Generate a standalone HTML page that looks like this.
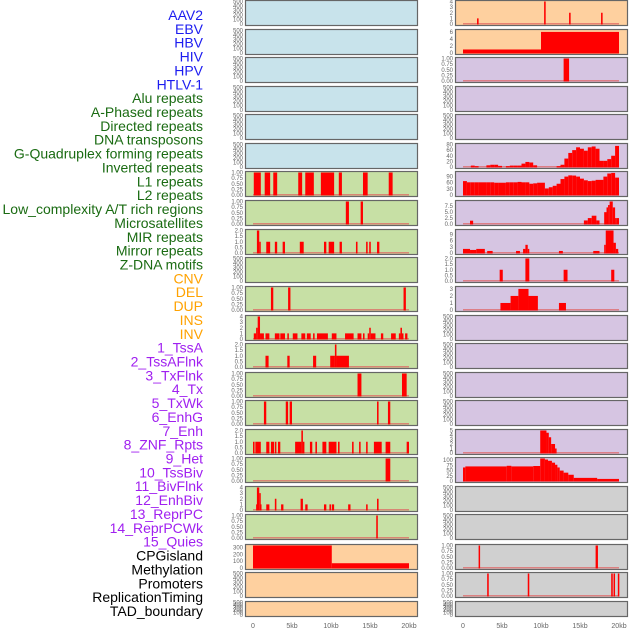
<!DOCTYPE html>
<html><head><meta charset="utf-8">
<style>
html,body{margin:0;padding:0;background:#fff;width:630px;height:630px;overflow:hidden}
svg{display:block;font-family:"Liberation Sans",sans-serif}
</style></head>
<body>
<svg id="chart" width="630" height="630" viewBox="0 0 630 630" xmlns="http://www.w3.org/2000/svg">
<g id="labels"></g>
<g id="panels"></g>
<g id="xaxis"></g>
</svg>
<script>
// ---- data ----
const trackLabels = ["AAV2","EBV","HBV","HIV","HPV","HTLV-1","Alu repeats","A-Phased repeats","Directed repeats","DNA transposons","G-Quadruplex forming repeats","Inverted repeats","L1 repeats","L2 repeats","Low_complexity A/T rich regions","Microsatellites","MIR repeats","Mirror repeats","Z-DNA motifs","CNV","DEL","DUP","INS","INV","1_TssA","2_TssAFlnk","3_TxFlnk","4_Tx","5_TxWk","6_EnhG","7_Enh","8_ZNF_Rpts","9_Het","10_TssBiv","11_BivFlnk","12_EnhBiv","13_ReprPC","14_ReprPCWk","15_Quies","CPGisland","Methylation","Promoters","ReplicationTiming","TAD_boundary"];
const labelColors = ["#1c1cf0","#1c1cf0","#1c1cf0","#1c1cf0","#1c1cf0","#1c1cf0","#1a6b12","#1a6b12","#1a6b12","#1a6b12","#1a6b12","#1a6b12","#1a6b12","#1a6b12","#1a6b12","#1a6b12","#1a6b12","#1a6b12","#1a6b12","#ffa200","#ffa200","#ffa200","#ffa200","#ffa200","#a020f0","#a020f0","#a020f0","#a020f0","#a020f0","#a020f0","#a020f0","#a020f0","#a020f0","#a020f0","#a020f0","#a020f0","#a020f0","#a020f0","#a020f0","#000","#000","#000","#000","#000"];
const xTickValues = [0,5,10,15,20];
const xTickLabels = ["0","5kb","10kb","15kb","20kb"];

const tick500 = [0,100,200,300,400,500];
const tick1 = [0,0.25,0.5,0.75,1];
const tick2 = [0,0.5,1,1.5,2];

// left column bars [startKb, endKb, value]
const L_inverted = [[0.1,1.0,1],[1.5,2.2,1],[2.6,3.1,1],[5.8,6.3,1],[6.7,7.8,1],[8.7,10.4,1],[11.0,11.4,1],[14.1,14.7,1],[17.4,17.9,1]];
const L_l1 = [[11.9,12.3,1],[13.8,14.1,1]];
const L_lowc = [[0.5,0.8,2],[0.8,0.9,1],[1.7,2.2,1],[2.8,3.1,1],[3.8,4.1,1],[6.0,6.5,1],[9.1,9.4,1],[9.7,10.4,1],[11.1,11.4,1],[13.2,13.4,1],[14.5,14.7,1],[14.9,15.1,1],[15.9,16.2,1]];
const L_mirror = [[2.3,2.6,1],[4.5,4.8,1],[19.3,19.6,1]];
const L_ins = [[0.1,0.4,1],[0.4,0.6,2],[0.6,0.9,4],[0.9,1.4,1],[1.6,2.1,1],[2.8,3.4,1],[3.5,4.1,1],[4.4,4.6,1],[5.1,5.7,1],[6.2,6.7,1],[6.9,7.4,1],[7.7,7.9,1],[8.2,9.6,1],[10.1,10.7,1],[11.8,12.9,1],[13.4,13.9,1],[14.1,14.3,1],[14.7,14.9,1],[14.9,15.1,2],[15.1,15.7,1],[16.4,16.7,1],[17.7,18.3,1],[18.7,18.9,1],[18.9,19.1,2],[19.1,19.2,1],[19.5,19.8,1]];
const L_tssa = [[1.6,2.0,1],[4.4,4.7,1],[7.7,8.1,1],[9.9,10.5,1],[10.5,10.7,2],[10.7,12.3,1]];
const L_txflnk = [[13.4,13.9,1],[19.1,19.7,1]];
const L_txwk = [[1.4,1.7,1],[4.2,4.5,1],[4.7,5.0,1],[15.9,16.1,1],[17.3,17.6,1]];
const L_enh = [[0.0,0.2,1],[0.3,1.0,1],[1.7,2.1,1],[2.3,2.7,1],[2.8,3.0,1],[3.2,3.5,1],[5.4,6.2,1],[6.2,6.4,2],[6.4,6.5,1],[7.3,7.6,1],[8.0,8.2,1],[8.9,9.4,1],[9.7,10.7,1],[10.9,11.1,1],[12.7,12.9,1],[13.6,13.8,1],[14.5,14.7,1],[15.5,16.5,1],[17.0,17.6,1],[19.7,20.0,1]];
const L_het = [[17.0,17.6,1]];
const L_bivflnk = [[0.4,0.5,1],[0.5,0.8,4],[0.8,0.9,3],[0.9,1.0,1],[1.7,2.1,1],[2.8,3.0,2],[3.6,3.9,1],[6.1,6.4,2],[6.7,7.0,1],[9.1,9.4,1],[9.8,10.0,1],[10.1,10.4,1],[12.2,12.5,1],[14.5,14.7,1],[15.9,16.1,2]];
const L_enhbiv = [[15.8,16.0,1]];
const L_cpg = [[0.0,10.1,330],[10.1,20.0,70]];

// right column
const R_aav2 = [[1.8,2.0,1],[10.4,10.6,4],[13.6,13.8,2],[17.7,17.9,2]];
const R_ebv = [[0.0,10.0,1],[10.0,20.0,6]];
const R_hbv = [[12.9,13.6,1]];
const R_gquad = [0,0,5,3,0,0,6,8,8,4,0,3,5,5,5,12,18,16,6,0,0,0,0,0,3,8,30,50,60,70,65,58,70,73,65,22,22,28,40,75];
const R_inverted = [68,62,62,62,62,62,62,62,60,60,60,62,62,62,64,62,62,55,57,60,60,32,38,45,55,78,90,96,95,90,80,72,68,70,74,74,90,105,108,85];
const R_l2 = [[0.9,1.3,1.4],[15.5,16.0,1.5],[16.0,16.5,2.5],[16.5,17.1,3.5],[17.1,17.5,1.5],[18.1,18.4,5],[18.4,18.6,7],[18.6,18.8,8],[18.8,19.2,9.5],[19.2,19.5,7],[19.5,19.7,2.5],[19.7,20.0,2.5]];
const R_lowc = [[0,0.9,2],[0.9,1.7,1.5],[1.7,2.8,2],[3.1,3.8,1],[6.8,7.3,1],[7.7,8.0,2],[8.0,8.3,4],[8.3,8.5,2],[12.3,12.8,1],[16.7,17.5,1],[18.1,18.3,4],[18.3,19.3,11],[19.3,19.6,5],[19.6,19.9,2]];
const R_micro = [[4.7,5.1,1],[8.0,8.5,2],[12.9,13.4,1],[19.0,19.4,1]];
const R_mir = [[4.8,6.1,1],[6.1,7.1,2],[7.1,8.4,3],[8.4,9.6,2],[12.3,13.2,1]];
const R_dup = [[9.9,10.7,5],[10.7,11.0,4.5],[11.0,11.3,3.5],[11.3,11.8,2],[11.8,12.0,1]];
const R_ins = [[0,0.3,65],[0.3,5.6,70],[5.6,6.2,73],[6.2,9.0,70],[9.0,9.9,72],[9.9,10.5,108],[10.5,10.9,103],[10.9,11.4,97],[11.4,11.8,88],[11.8,12.1,78],[12.1,12.4,65],[12.4,12.9,50],[12.9,13.5,40],[13.5,14.2,30],[14.2,17.2,15],[17.2,20.0,10]];
const R_row20 = [[2.0,2.15,1],[17.0,17.3,1]];
const R_row21 = [[3.1,3.3,1],[8.3,8.5,1],[19.0,19.2,1],[19.3,19.4,1],[19.85,20.0,1]];

// ---- layout ----
const rowTops = [0,29,57,86,114,143,171,200,229,257,286,315,343,372,400,429,457,486,514,544,572,601];
const BG = {b:"#c8e3eb",g:"#c7e0a5",o:"#fed09f",p:"#d6c5e2",y:"#d0d0d0"};
function binsToBars(vals){return vals.map((v,i)=>[i*0.5,(i+1)*0.5,v]);}
const panels = [
 // [col,row,bg,ticks,tickDecimals,ymax,bars,name]
 [0,0,"b",tick500,0,500,null,"aav2-left"],[1,0,"o",[0,1,2,3,4],0,4,R_aav2,"aav2-right"],
 [0,1,"b",tick500,0,500,null,"ebv-left"],[1,1,"o",[0,2,4,6],0,6.4,R_ebv,"ebv-right"],
 [0,2,"b",tick500,0,500,null,"hbv-left"],[1,2,"p",tick1,2,1,R_hbv,"hbv-right"],
 [0,3,"b",tick500,0,500,null,"hiv-left"],[1,3,"p",tick500,0,500,null,"hiv-right"],
 [0,4,"b",tick500,0,500,null,"hpv-left"],[1,4,"p",tick500,0,500,null,"hpv-right"],
 [0,5,"b",tick500,0,500,null,"htlv-left"],[1,5,"p",[0,20,40,60,80],0,80,binsToBars(R_gquad),"gquad-right"],
 [0,6,"g",tick1,2,1,L_inverted,"inverted-left"],[1,6,"p",[0,30,60,90],0,110,binsToBars(R_inverted),"inverted-right"],
 [0,7,"g",tick1,2,1,L_l1,"l1-left"],[1,7,"p",[0,2.5,5,7.5],1,9.5,R_l2,"l2-right"],
 [0,8,"g",tick2,1,2,L_lowc,"lowc-left"],[1,8,"p",[0,3,6,9],0,11,R_lowc,"lowc-right"],
 [0,9,"g",tick500,0,500,null,"micro-left"],[1,9,"p",tick2,1,2,R_micro,"micro-right"],
 [0,10,"g",tick1,2,1,L_mirror,"mirror-left"],[1,10,"p",[0,1,2,3],0,3.2,R_mir,"mir-right"],
 [0,11,"g",[0,1,2,3,4],0,4,L_ins,"ins-left"],[1,11,"p",tick500,0,500,null,"row12-right"],
 [0,12,"g",tick2,1,2,L_tssa,"tssa-left"],[1,12,"p",tick500,0,500,null,"row13-right"],
 [0,13,"g",tick1,2,1,L_txflnk,"txflnk-left"],[1,13,"p",tick500,0,500,null,"row14-right"],
 [0,14,"g",tick1,2,1,L_txwk,"txwk-left"],[1,14,"p",tick500,0,500,null,"row15-right"],
 [0,15,"g",tick2,1,2,L_enh,"enh-left"],[1,15,"p",[0,1,2,3,4,5],0,5,R_dup,"dup-right"],
 [0,16,"g",tick1,2,1,L_het,"het-left"],[1,16,"p",[0,25,50,75,100],0,108,R_ins,"ins-right"],
 [0,17,"g",[0,1,2,3,4],0,4,L_bivflnk,"bivflnk-left"],[1,17,"y",tick500,0,500,null,"row18-right"],
 [0,18,"g",tick1,2,1,L_enhbiv,"enhbiv-left"],[1,18,"y",tick500,0,500,null,"row19-right"],
 [0,19,"o",[0,100,200,300],0,330,L_cpg,"cpg-left"],[1,19,"y",tick1,2,1,R_row20,"row20-right"],
 [0,20,"o",tick500,0,500,null,"promoters-left"],[1,20,"y",tick1,2,1,R_row21,"row21-right"],
 [0,21,"o",tick500,0,500,null,"tad-left"],[1,21,"y",tick500,0,500,null,"tad-right"]
];

const NS="http://www.w3.org/2000/svg";
function mk(tag,attrs,parent){const e=document.createElementNS(NS,tag);for(const k in attrs)e.setAttribute(k,attrs[k]);parent.appendChild(e);return e;}

// labels
const lg=document.getElementById("labels");
trackLabels.forEach((t,i)=>{
  const e=mk("text",{x:203,y:20+i*13.86,"text-anchor":"end","font-size":"14",fill:labelColors[i]},lg);
  
  
  e.textContent=t;
});

const colX=[245,455], colZero=[253,463], pxPerKb=7.8, PW=172;
function xScale(col,kb){return colZero[col]+kb*pxPerKb;}
const pg=document.getElementById("panels");
panels.forEach(p=>{
  const [col,row,bg,ticks,dec,ymax,bars,name]=p;
  const top=rowTops[row]+0.5, h=(row===21?15:25);
  const x0=colX[col];
  const g=mk("g",{},pg);
  
  
  mk("rect",{x:x0+0.5,y:top,width:PW,height:h,fill:BG[bg],stroke:"#666","stroke-width":1.2},g);
  const yb=top+h-1.5, yt=top+1;
  const yScale=v=>yb-(v/ymax)*(yb-yt);
  ticks.forEach(tv=>{
    const t=mk("text",{x:x0-2,y:yScale(tv)+2,"text-anchor":"end","font-size":"6",fill:"#666"},g);
    
    
    t.textContent=tv.toFixed(dec);
  });
  if(bars){
    const bl=mk("rect",{x:xScale(col,0),y:yb-1,width:20*pxPerKb,height:1.5,fill:"#e06060",opacity:0.7},g);
    
    
    bars.forEach(b=>{
      if(b[2]<=0)return;
      const xa=xScale(col,b[0]), xb=xScale(col,b[1]), y=yScale(b[2]);
      const r=mk("rect",{x:xa,y:y,width:Math.max(1.5,xb-xa),height:yb-y+0.5,fill:"#ff0000"},g);
      
      
    });
  }
});

const xg=document.getElementById("xaxis");
[0,1].forEach(col=>{
  xTickValues.forEach((v,i)=>{
    const t=mk("text",{x:xScale(col,v),y:628,"text-anchor":"middle","font-size":"7",fill:"#666"},xg);
    
    
    t.textContent=xTickLabels[i];
  });
});
</script>
</body></html>
